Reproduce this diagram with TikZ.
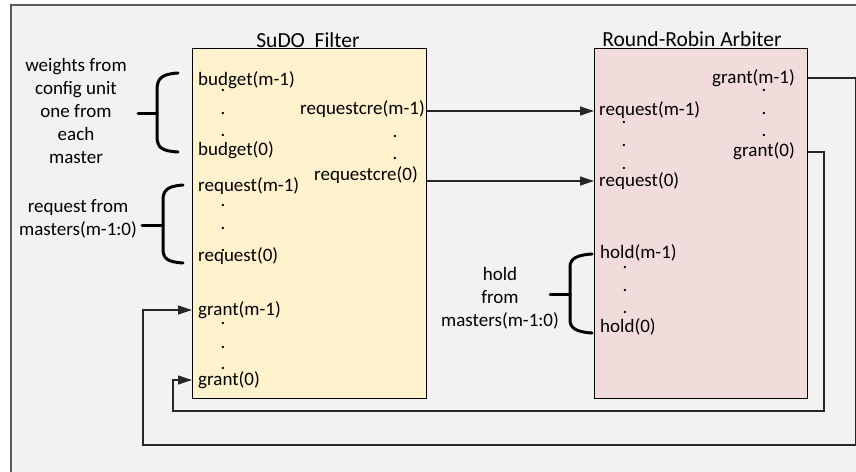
\documentclass[tikz,border=0pt]{standalone}
\usepackage{fontspec}
\setmainfont{Carlito}
\usetikzlibrary{arrows.meta}

\definecolor{panelbg}{HTML}{F2F2F2}
\definecolor{panelline}{HTML}{5A5A5A}
\definecolor{sudofill}{HTML}{FFF2CC}
\definecolor{rrfill}{HTML}{F2DCDB}
\definecolor{wirecol}{HTML}{262626}

\tikzset{
  lbl/.style={inner sep=0pt, font=\fontsize{19}{23}\selectfont, text=black},
  ttl/.style={inner sep=0pt, font=\fontsize{21.5}{25}\selectfont, text=black},
  dotmark/.style={inner sep=0pt, font=\fontsize{19}{23}\selectfont},
  blockbox/.style={draw=black, line width=1.3pt, anchor=north west, inner sep=0pt},
  wire/.style={draw=wirecol, line width=1.2pt},
  feed/.style={wire, -{Triangle[length=14pt,width=9pt]}},
  brace/.style={draw=black, line width=3pt, line cap=round},
}

\begin{document}
\begin{tikzpicture}[x=1pt,y=-1pt]
  % page and panel
  \fill[white] (0,0) rectangle (856,471);
  \useasboundingbox (0,0) rectangle (856,471);
  \filldraw[fill=panelbg, draw=panelline, line width=1.8pt] (11,5) rectangle (900,520);

  % blocks
  \node[blockbox, fill=sudofill, minimum width=234pt, minimum height=350pt] (sudo) at (192,48) {};
  \node[blockbox, fill=rrfill, minimum width=213pt, minimum height=350pt] (rr) at (594,48) {};
  \node[ttl] (sudottl) at (308,40) {SuDO\ \ Filter};
  \node[ttl] (rrttl) at (692,39) {Round-Robin Arbiter};

  % SuDO filter ports
  \node[lbl, anchor=west] (bm1) at (198,80) {budget(m-1)};
  \node[dotmark] (bd1) at (223,90) {.};
  \node[dotmark] (bd2) at (223,113) {.};
  \node[dotmark] (bd3) at (223,135) {.};
  \node[lbl, anchor=west] (b0) at (198,150) {budget(0)};
  \node[lbl, anchor=west] (rm1) at (198,186) {request(m-1)};
  \node[dotmark] (rd1) at (223,205) {.};
  \node[dotmark] (rd2) at (223,228) {.};
  \node[dotmark] (rd3) at (223,250) {.};
  \node[lbl, anchor=west] (r0) at (198,256) {request(0)};
  \node[lbl, anchor=west] (gm1) at (198,310) {grant(m-1)};
  \node[dotmark] (gd1) at (223,323) {.};
  \node[dotmark] (gd2) at (223,347) {.};
  \node[dotmark] (gd3) at (223,368) {.};
  \node[lbl, anchor=west] (g0) at (198,380) {grant(0)};
  \node[lbl, anchor=east] (rcm1) at (425,109) {requestcre(m-1)};
  \node[dotmark] (cd1) at (395,136) {.};
  \node[dotmark] (cd2) at (395,158) {.};
  \node[lbl, anchor=east] (rc0) at (418,175) {requestcre(0)};

  % arbiter ports
  \node[lbl, anchor=west] (arm1) at (599,110) {request(m-1)};
  \node[dotmark] (ad1) at (624,122) {.};
  \node[dotmark] (ad2) at (624,145) {.};
  \node[dotmark] (ad3) at (624,168) {.};
  \node[lbl, anchor=west] (ar0) at (599,181) {request(0)};
  \node[lbl, anchor=east] (agm1) at (795,78) {grant(m-1)};
  \node[dotmark] (ag1) at (764,90) {.};
  \node[dotmark] (ag2) at (764,113) {.};
  \node[dotmark] (ag3) at (764,135) {.};
  \node[lbl, anchor=east] (ag0) at (795,151) {grant(0)};
  \node[lbl, anchor=west] (hm1) at (600,253) {hold(m-1)};
  \node[dotmark] (hd1) at (625,267) {.};
  \node[dotmark] (hd2) at (625,290) {.};
  \node[dotmark] (hd3) at (625,312) {.};
  \node[lbl, anchor=west] (h0) at (600,327) {hold(0)};

  % side notes
  \node[lbl, align=center] (wnote) at (76,111) {weights from\\config unit\\one from\\each\\master};
  \node[lbl, align=center] (rnote) at (78,219) {request from\\masters(m-1:0)};
  \node[lbl, align=center] (hnote) at (500,298) {hold\\from\\masters(m-1:0)};

  % braces
  \path[brace] (178,73) .. controls (162,74) and (157,78) .. (157,90) -- (157,136)
    .. controls (157,148) and (162,151) .. (178,152);
  \path[brace] (138,113) -- (157,113);
  \path[brace] (183,185) .. controls (168,186) and (163,190) .. (163,200) -- (163,249)
    .. controls (163,259) and (168,262) .. (183,263);
  \path[brace] (142,225) -- (163,225);
  \path[brace] (592,254) .. controls (576,255) and (570,259) .. (570,267) -- (570,320)
    .. controls (570,328) and (576,332) .. (592,333);
  \path[brace] (550,294) -- (570,294);

  % request lines between the blocks
  \draw[feed] (sudo.east |- 0,111) -- (rr.west |- 0,111);
  \draw[feed] (sudo.east |- 0,181) -- (rr.west |- 0,181);

  % grant feedback loops
  \coordinate (gmr) at (856,78);
  \coordinate (g0r) at (824,152);
  \draw[feed] (rr.east |- gmr) -- (gmr) -- (856,445) -- (143,445) -- (143,310) -- (sudo.west |- gm1);
  \draw[feed] (rr.east |- g0r) -- (g0r) -- (824,411) -- (173,411) -- (173,380) -- (sudo.west |- g0);
\end{tikzpicture}
\end{document}
